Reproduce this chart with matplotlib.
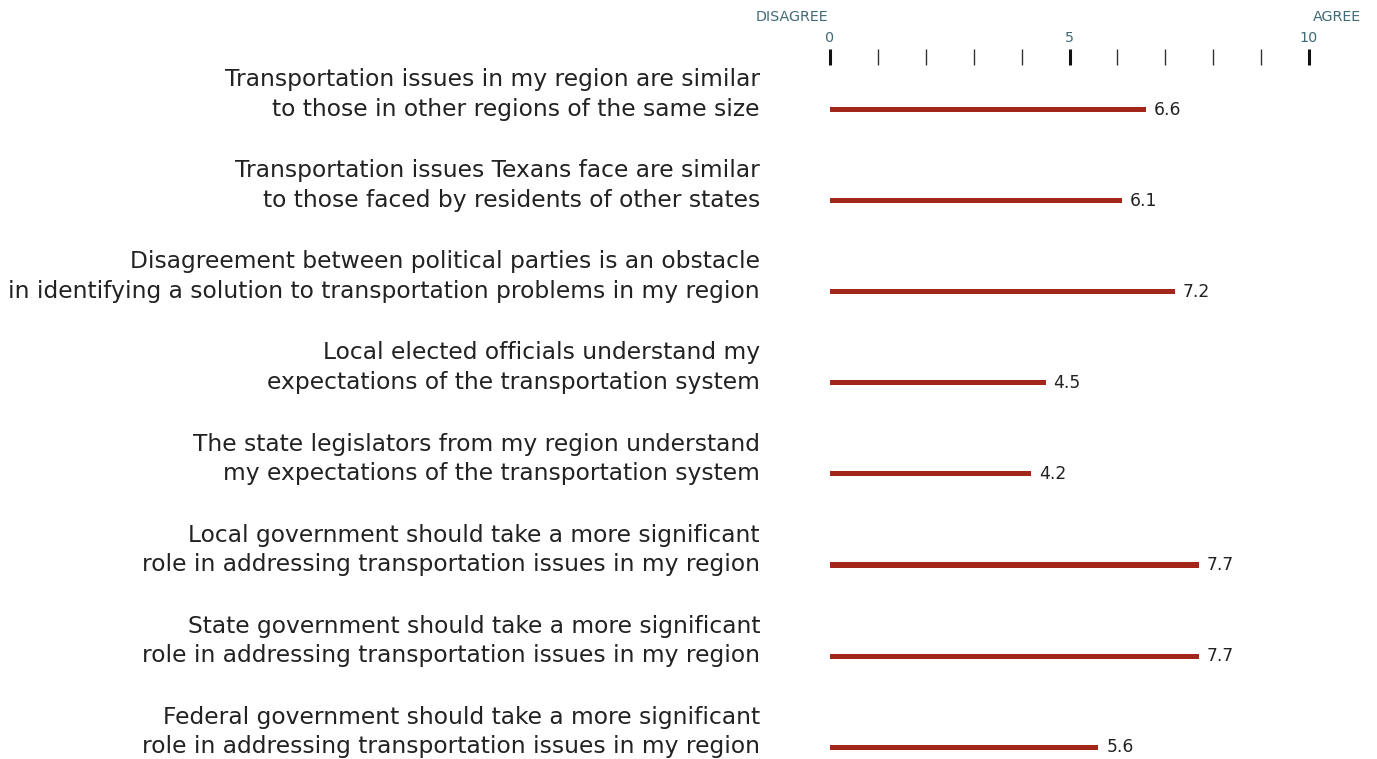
import matplotlib
matplotlib.use("Agg")
import matplotlib.pyplot as plt
import numpy as np

plt.rcParams['font.family'] = ['DejaVu Sans']

statements = [
    "Transportation issues in my region are similar\nto those in other regions of the same size",
    "Transportation issues Texans face are similar\nto those faced by residents of other states",
    "Disagreement between political parties is an obstacle\nin identifying a solution to transportation problems in my region",
    "Local elected officials understand my\nexpectations of the transportation system",
    "The state legislators from my region understand\nmy expectations of the transportation system",
    "Local government should take a more significant\nrole in addressing transportation issues in my region",
    "State government should take a more significant\nrole in addressing transportation issues in my region",
    "Federal government should take a more significant\nrole in addressing transportation issues in my region",
]
scores = [6.6, 6.1, 7.2, 4.5, 4.2, 7.7, 7.7, 5.6]
major_ticks = [0, 5, 10]
minor_ticks = [1, 2, 3, 4, 6, 7, 8, 9]

BAR = '#a3261b'
AXIS_TXT = '#3f6a76'
TXT = '#222222'

W, H = 1377, 759
fig = plt.figure(figsize=(W / 100, H / 100), dpi=100)
# axes laid out in pixels: 0..10 runs from x=830 to x=1309
left, right, top, bottom = 830, 1309, 57, 758
ax = fig.add_axes([left / W, (H - bottom) / H, (right - left) / W, (bottom - top) / H])

ypos = np.arange(len(scores))
ax.barh(ypos, scores, height=0.055, color=BAR)
ax.set_xlim(0, 10)
ax.set_ylim(7.12, -0.58)

for y, s, label in zip(ypos, scores, statements):
    ax.annotate(f"{s:.1f}", xy=(s, y), xytext=(8, 0), textcoords='offset pixels',
                va='center', ha='left', fontsize=12.3, color=TXT)
    # second line of each statement sits level with its bar
    ax.annotate(label, xy=(0, y), xytext=(-70, 15), textcoords='offset pixels',
                va='center', ha='right', fontsize=16.8, color=TXT,
                linespacing=1.38, multialignment='right')

for sp in ax.spines.values():
    sp.set_visible(False)
ax.set_yticks([])
ax.xaxis.tick_top()
ax.set_xticks(major_ticks)
ax.set_xticks(minor_ticks, minor=True)
ax.tick_params(axis='x', which='major', direction='inout', length=11, width=2.2,
               color='#111111', labelcolor=AXIS_TXT, labelsize=10.3, pad=3)
ax.tick_params(axis='x', which='minor', direction='inout', length=11, width=1,
               color='#333333')

fig.text(792 / W, 1 - 17 / H, "DISAGREE", ha='center', va='center',
         fontsize=10.3, color=AXIS_TXT)
fig.text(1361 / W, 1 - 17 / H, "AGREE", ha='right', va='center',
         fontsize=10.3, color=AXIS_TXT)

fig.savefig("out.png", dpi=100, facecolor='white')
